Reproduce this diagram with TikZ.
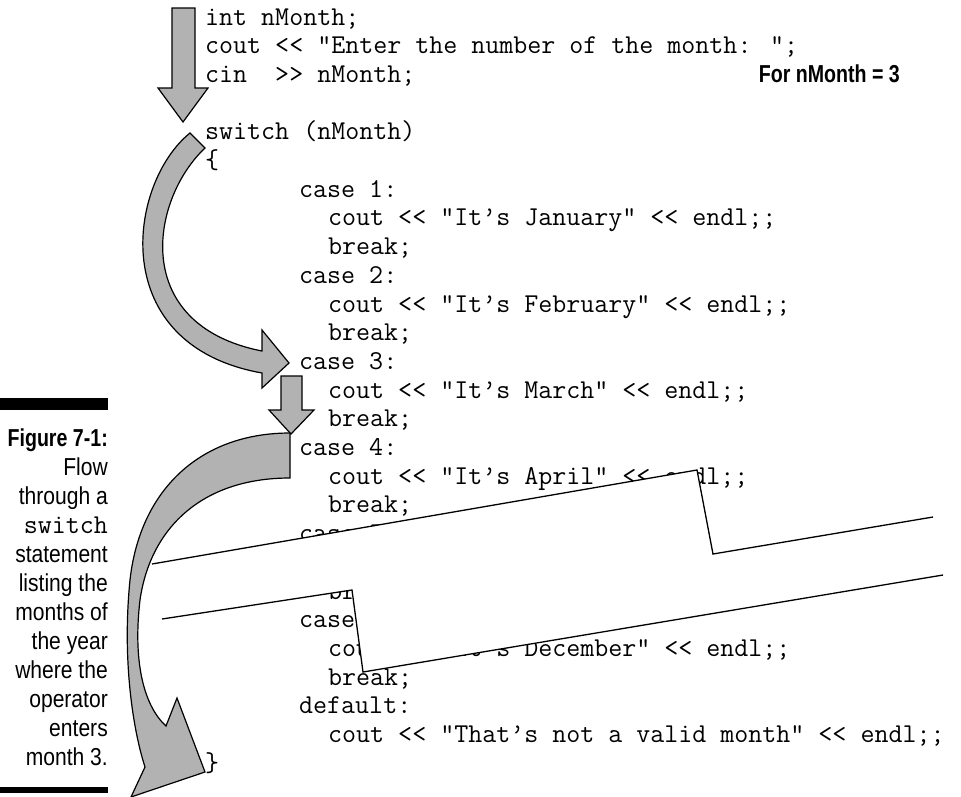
\documentclass[tikz,border=0pt]{standalone}
\usepackage{fontspec}
\newfontfamily\capfont{Liberation Sans}[FakeStretch=0.86]
\newfontfamily\capbold{Liberation Sans}[FakeStretch=0.8]
\tikzset{
  code/.style={font=\ttfamily\fontsize{27.2}{28.7}\selectfont, inner sep=0pt, anchor=base west, text=black},
  captext/.style={font=\capfont\fontsize{24.5}{29}\selectfont, inner sep=0pt, anchor=base east},
  capbold/.style={font=\capbold\bfseries\fontsize{24.5}{29}\selectfont, inner sep=0pt, anchor=base east},
  capcode/.style={font=\ttfamily\fontsize{27.2}{28.7}\selectfont, inner sep=0pt, anchor=base east},
  arrowshape/.style={fill=gray!60, draw=black, line width=1.2pt, line join=miter},
  tear/.style={draw=black, line width=1.3pt, line join=miter},
  bar/.style={fill=black}
}
\begin{document}
\begin{tikzpicture}[x=1pt,y=-1pt]
\useasboundingbox (0,0) rectangle (961,796);
\fill[white] (0,0) rectangle (961,796);

% code lines
\node[code] (l0)  at (205,25)    {int nMonth;};
\node[code] (l1)  at (205,53.7)  {cout << “Enter the number of the month: ”;};
\node[code] (l2)  at (205,82.4)  {cin~~>> nMonth;};
\node[code] (l4)  at (205,139.8) {switch (nMonth)};
\node[code] (l5)  at (205,168.5) {\{};
\node[code] (l6)  at (299,197.2) {case 1:};
\node[code] (l7)  at (328,225.9) {cout << “It’s January” << endl;;};
\node[code] (l8)  at (328,254.6) {break;};
\node[code] (l9)  at (299,283.3) {case 2:};
\node[code] (l10) at (328,312)   {cout << “It’s February” << endl;;};
\node[code] (l11) at (328,340.7) {break;};
\node[code] (l12) at (299,369.4) {case 3:};
\node[code] (l13) at (328,398.1) {cout << “It’s March” << endl;;};
\node[code] (l14) at (328,426.8) {break;};
\node[code] (l15) at (299,455.5) {case 4:};
\node[code] (l16) at (328,484.2) {cout << “It’s April” << endl;;};
\node[code] (l17) at (328,512.9) {break;};
\node[code] (l18) at (299,541.6) {case 5:};
\node[code] (l20) at (328,599)   {break;};
\node[code] (l21) at (299,627.7) {case 12:};
\node[code] (l22) at (328,656.4) {cout << “It’s December” << endl;;};
\node[code] (l23) at (328,685.1) {break;};
\node[code] (l24) at (299,713.8) {default:};
\node[code] (l25) at (328,742.5) {cout << “That’s not a valid month” << endl;;};
\node[code] (l26) at (205,771.2) {\}};

% torn-out band
\fill[white] (140,566) -- (152,564) -- (697,470) -- (713,554) -- (933,517) -- (961,512)
  -- (961,570) -- (943,575) -- (363,672) -- (352,590) -- (162,619) -- (140,622) -- cycle;
\draw[tear] (152,564) -- (697,470) -- (713,554) -- (933,517);
\draw[tear] (162,619) -- (352,590) -- (363,672) -- (943,575);

% arrows
\filldraw[arrowshape] (172,8) -- (195,8) -- (195,88) -- (208,88) -- (183,122) -- (158,88) -- (172,88) -- cycle;
\filldraw[arrowshape] (190,133) -- (205,148) .. controls (150,200) and (130,325) .. (262,351)
  -- (262,330) -- (289,363) -- (262,388) -- (262,373)
  .. controls (105,345) and (128,183) .. (190,133) -- cycle;
\filldraw[arrowshape] (281,376) -- (302,376) -- (302,410) -- (314,410) -- (291,434) -- (269,410) -- (281,410) -- cycle;
\filldraw[arrowshape] (290,433) .. controls (200,433) and (140,490) .. (130,580)
  .. controls (122,660) and (133,730) .. (145,767) -- (131,797) -- (205,772) -- (177,698) -- (166,726)
  .. controls (143,705) and (133,660) .. (140,600)
  .. controls (150,530) and (200,478) .. (290,478) -- cycle;

% label
\node[capbold] (lab) at (900,82) {For nMonth = 3};

% caption
\fill[bar] (0,398) rectangle (108,410);
\fill[bar] (0,787) rectangle (108,793);
\node[capbold] (c0) at (108,446) {Figure 7-1:};
\node[captext] (c1) at (108,475) {Flow};
\node[captext] (c2) at (108,504) {through a};
\node[capcode] (c3) at (108,533) {switch};
\node[captext] (c4) at (108,562) {statement};
\node[captext] (c5) at (108,591) {listing the};
\node[captext] (c6) at (108,620) {months of};
\node[captext] (c7) at (108,649) {the year};
\node[captext] (c8) at (108,678) {where the};
\node[captext] (c9) at (108,707) {operator};
\node[captext] (c10) at (108,736) {enters};
\node[captext] (c11) at (108,765) {month 3.};
\end{tikzpicture}
\end{document}
